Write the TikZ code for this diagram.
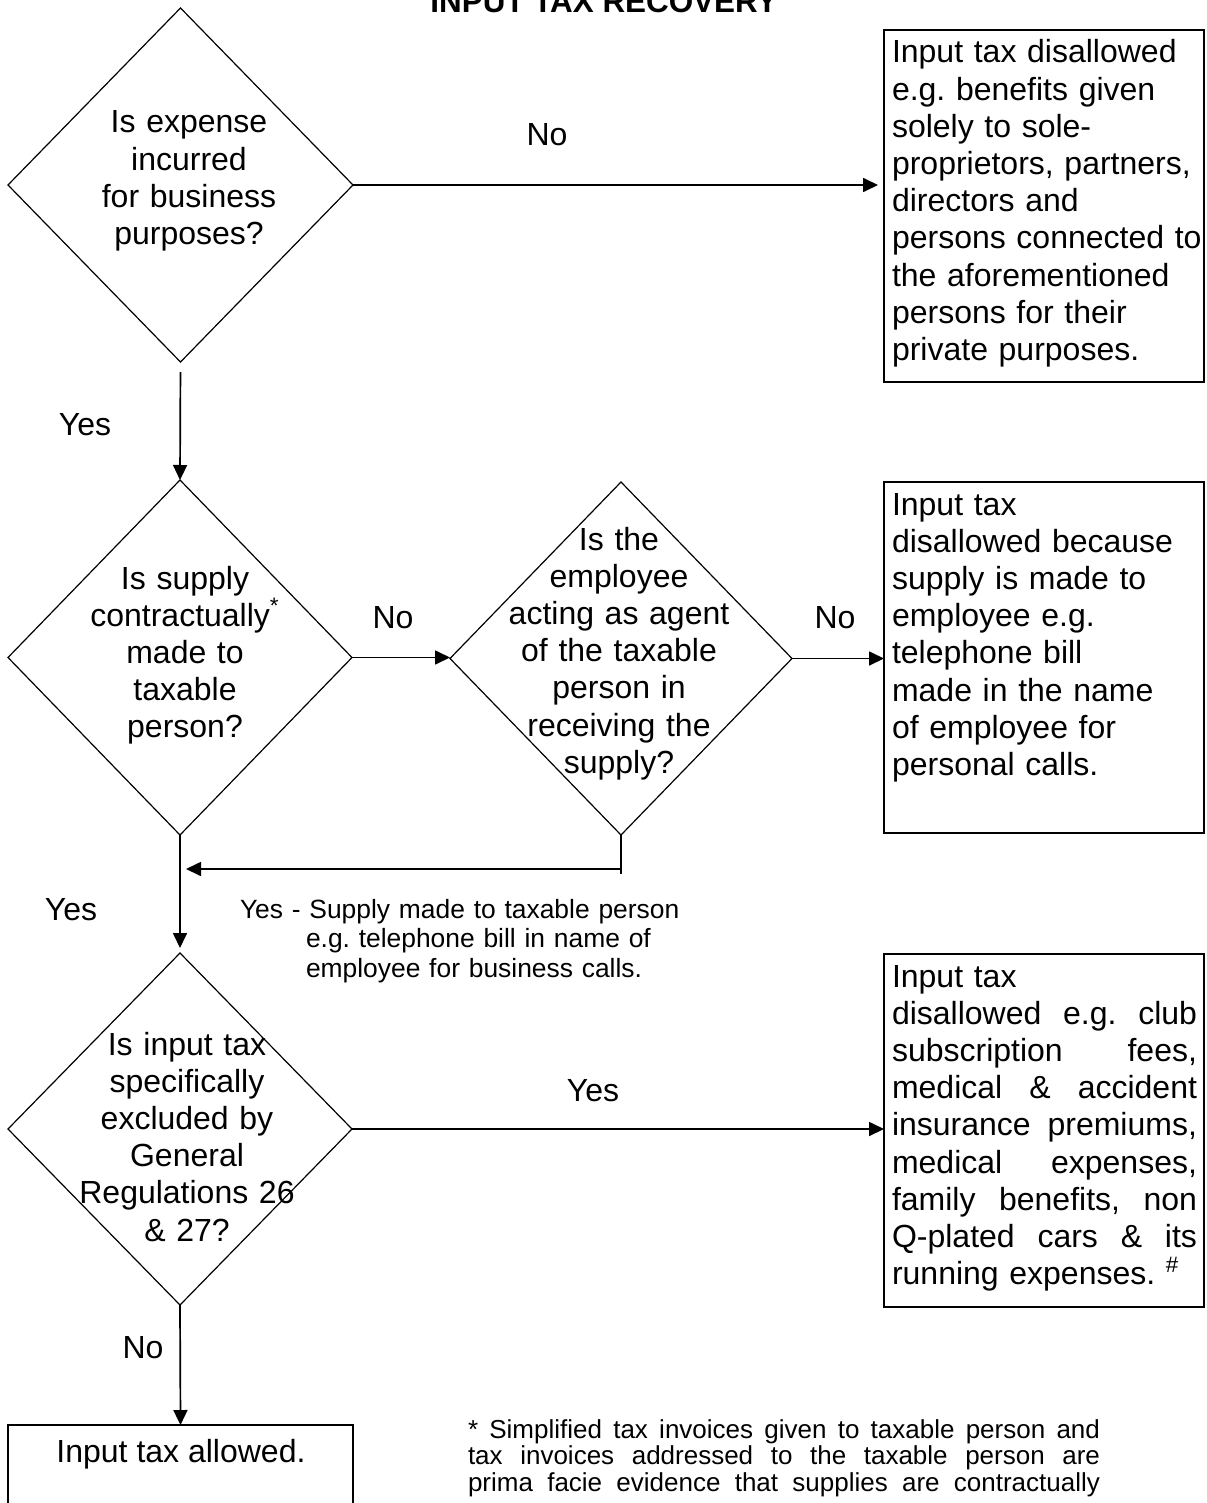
\documentclass[tikz,border=0pt]{standalone}
\usepackage{fontspec}
\setmainfont{Liberation Sans}
\usetikzlibrary{shapes.geometric,arrows.meta}
\frenchspacing
\newcommand\jbox[1]{\leavevmode\hbox to 152.5pt{#1}}
\newcommand\jnote[1]{\leavevmode\hbox to 316pt{#1}}
\begin{document}
\begin{tikzpicture}[x=0.5pt,y=-0.5pt,
  dia/.style={draw, line width=0.6pt, shape=diamond, inner sep=0pt, outer sep=0pt},
  box/.style={draw, line width=0.9pt, rectangle, inner sep=0pt, outer sep=0pt},
  txt/.style={font=\fontsize{16pt}{18.6pt}\selectfont, inner sep=0pt, outer sep=0pt},
  small/.style={font=\fontsize{13.2pt}{14.75pt}\selectfont, inner sep=0pt, outer sep=0pt},
  note/.style={font=\fontsize{13pt}{13.4pt}\selectfont, inner sep=0pt, outer sep=0pt},
  conn/.style={line width=0.85pt, -{Triangle[length=7.5pt,width=7pt]}},
  plain/.style={line width=0.85pt}]
\useasboundingbox (0,0) rectangle (1206,1503);

% title (mostly cut off at top, as in the original)
\node[font=\fontsize{15.7pt}{18pt}\selectfont\bfseries, inner sep=0pt, anchor=base] (title) at (604,13) {INPUT TAX RECOVERY};

% diamonds
\node[dia, minimum width=172.5pt, minimum height=177pt] (d1) at (180.5,185) {};
\node[dia, minimum width=172pt, minimum height=177.5pt] (d2) at (180,657.5) {};
\node[dia, minimum width=171pt, minimum height=176.5pt] (d3) at (621,658.5) {};
\node[dia, minimum width=172pt, minimum height=176pt] (d4) at (180,1129) {};

% boxes
\node[box, minimum width=160pt, minimum height=176pt] (b1) at (1044,206) {};
\node[box, minimum width=160pt, minimum height=175.5pt] (b2) at (1044,657.5) {};
\node[box, minimum width=160pt, minimum height=176.5pt] (b3) at (1044,1130.5) {};
\node[box, line width=0.6pt, minimum width=172.5pt, minimum height=60pt] (b4) at (180.5,1485) {};

% diamond texts
\node[txt, text width=130pt, align=center, anchor=base] (q1) at (189,133)
  {Is expense\\incurred\\for business\\purposes?};
\node[txt, text width=130pt, align=center, anchor=base] (q2) at (185,589)
  {Is supply\\contractually\textsuperscript{*}\\made to\\taxable\\person?};
\node[txt, text width=130pt, align=center, anchor=base] (q3) at (619,550)
  {Is the\\employee\\acting as agent\\of the taxable\\person in\\receiving the\\supply?};
\node[txt, text width=130pt, align=center, anchor=base] (q4) at (187,1055)
  {Is input tax\\specifically\\excluded by\\General\\Regulations 26\\\& 27?};

% box texts
\node[txt, text width=160pt, align=left, anchor=base west] (t1) at (892,63)
  {Input tax disallowed\\e.g. benefits given\\solely to sole-\\proprietors, partners,\\directors and\\persons connected to\\the aforementioned\\persons for their\\private purposes.};
\node[txt, text width=160pt, align=left, anchor=base west] (t2) at (892,515)
  {Input tax\\disallowed because\\supply is made to\\employee e.g.\\telephone bill\\made in the name\\of employee for\\personal calls.};
\node[txt, text width=155pt, align=left, anchor=base west] (t3) at (892,987)
  {Input tax\\
   \jbox{disallowed\hfill e.g.\hfill club}\\
   \jbox{subscription\hfill fees,}\\
   \jbox{medical\hfill \&\hfill accident}\\
   \jbox{insurance\hfill premiums,}\\
   \jbox{medical\hfill expenses,}\\
   \jbox{family\hfill benefits,\hfill non}\\
   \jbox{Q-plated\hfill cars\hfill \&\hfill its}\\
   running expenses.\ \textsuperscript{\#}};
\node[txt, anchor=base] (t4) at (181,1462) {Input tax allowed.};

% edge labels
\node[txt] (no1) at (547,135) {No};
\node[txt] (yes1) at (85,425) {Yes};
\node[txt] (no2) at (393,618) {No};
\node[txt] (no3) at (835,618) {No};
\node[txt] (yes2) at (71,910) {Yes};
\node[txt] (yes3) at (593,1091) {Yes};
\node[txt] (no4) at (143,1348) {No};

\node[small, text width=240pt, align=left, anchor=base west] (agent) at (240,918)
  {Yes - Supply made to taxable person\\
   \hspace*{33pt}e.g. telephone bill in name of\\
   \hspace*{33pt}employee for business calls.};

% footnote
\node[note, text width=320pt, align=left, anchor=base west] (fn) at (468,1438)
  {\jnote{*\ \hfill Simplified\ \hfill tax\ \hfill invoices\ \hfill given\ \hfill to\ \hfill taxable\ \hfill person\ \hfill and}\\
   \jnote{tax\ \hfill invoices\ \hfill addressed\ \hfill to\ \hfill the\ \hfill taxable\ \hfill person\ \hfill are}\\
   \jnote{prima\ \hfill facie\ \hfill evidence\ \hfill that\ \hfill supplies\ \hfill are\ \hfill contractually}};

% connectors
\coordinate (turn) at (621,869);
\draw[conn, shorten >=3pt] (d1.east) -- (d1.east -| b1.west);
\draw[conn, shorten <=5pt] (d1.south) -- (d2.north);
\draw[conn] (d2.east) -- (d2.east -| d3.west);
\draw[conn] (d3.east) -- (d3.east -| b2.west);
\draw[plain] (d3.south) -- ([yshift=-2.5pt]turn);
\draw[conn, shorten >=3pt] (turn) -- (turn -| d2.south);
\draw[conn, shorten >=2.5pt] (d2.south) -- (d4.north);
\draw[conn] (d4.east) -- (d4.east -| b3.west);
\draw[conn] (d4.south) -- (b4.north);
\end{tikzpicture}
\end{document}
